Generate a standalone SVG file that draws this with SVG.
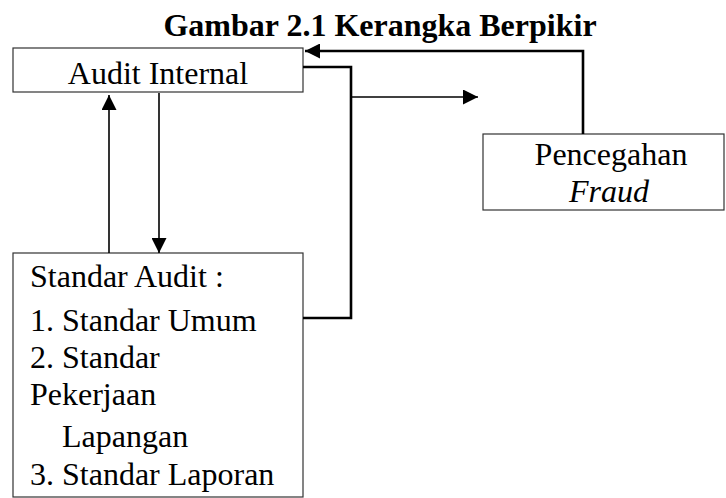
<svg xmlns="http://www.w3.org/2000/svg" width="726" height="498" viewBox="0 0 726 498">
<style>
.box{fill:#fff;stroke:#333;stroke-width:1.2}
.t{font-family:"Liberation Serif","Times New Roman",serif;font-size:32px;fill:#000}
.title{font-weight:bold}
.thick{fill:none;stroke:#000;stroke-width:2.6}
.thin{fill:none;stroke:#000;stroke-width:1.6}
</style>
<defs>
<marker id="ah" viewBox="0 0 10 10" refX="10" refY="5" markerWidth="10" markerHeight="10" markerUnits="userSpaceOnUse" orient="auto">
<path d="M0,0 L10,5 L0,10 Z" fill="#000"/>
</marker>
<marker id="ahL" viewBox="0 0 10 10" refX="10" refY="5" markerWidth="15" markerHeight="15" markerUnits="userSpaceOnUse" orient="auto">
<path d="M0,0 L10,5 L0,10 Z" fill="#000"/>
</marker>
</defs>
<text class="t title" x="380" y="36" text-anchor="middle">Gambar 2.1 Kerangka Berpikir</text>
<g id="audit-internal">
<rect class="box" x="13" y="48" width="290" height="44"/>
<text class="t" x="158" y="84" text-anchor="middle">Audit Internal</text>
</g>
<g id="standar-audit">
<rect class="box" x="13" y="253" width="290" height="244"/>
<text class="t" x="30" y="287">Standar Audit :</text>
<text class="t" x="30" y="331">1. Standar Umum</text>
<text class="t" x="30" y="368">2. Standar</text>
<text class="t" x="30" y="405">Pekerjaan</text>
<text class="t" x="62" y="447">Lapangan</text>
<text class="t" x="30" y="485">3. Standar Laporan</text>
</g>
<g id="pencegahan-fraud">
<rect class="box" x="483" y="134" width="241" height="76"/>
<text class="t" x="611" y="165" text-anchor="middle">Pencegahan</text>
<text class="t" x="609" y="202" text-anchor="middle" font-style="italic">Fraud</text>
</g>
<g id="connectors">
<path class="thin" d="M109,253 L109,95" marker-end="url(#ahL)"/>
<path class="thin" d="M159,93 L159,253" marker-end="url(#ahL)"/>
<path class="thick" d="M303,67 L351,67 L351,318 L303,318"/>
<path class="thin" d="M351,97 L478,97" marker-end="url(#ahL)"/>
<path class="thick" d="M583,134 L583,51 L305,51" marker-end="url(#ahL)"/>
</g>
</svg>
